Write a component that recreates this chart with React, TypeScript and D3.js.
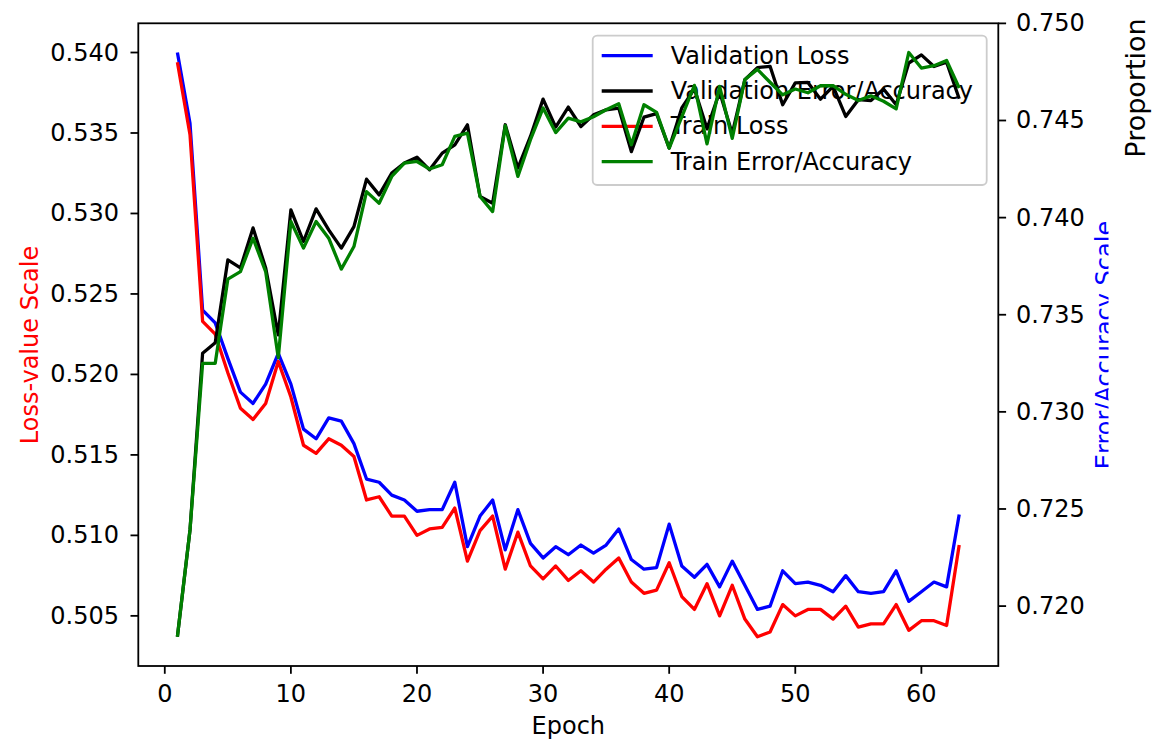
import React from "react";
import * as d3 from "d3";

const epochs: number[] = d3.range(1, 64);

const valLoss: number[] = [
  0.5400, 0.5356, 0.5240, 0.5232, 0.5210, 0.5189, 0.5182, 0.5194, 0.5213, 0.5194,
  0.5166, 0.5160, 0.5173, 0.5171, 0.5157, 0.5135, 0.5133, 0.5125, 0.5122, 0.5115,
  0.5116, 0.5116, 0.5133, 0.5093, 0.5112, 0.5122, 0.5091, 0.5116, 0.5095, 0.5086,
  0.5093, 0.5088, 0.5094, 0.5089, 0.5094, 0.5104, 0.5085, 0.5079, 0.5080, 0.5107,
  0.5081, 0.5074, 0.5082, 0.5068, 0.5084, 0.5069, 0.5054, 0.5056, 0.5078, 0.5070,
  0.5071, 0.5069, 0.5065, 0.5075, 0.5065, 0.5064, 0.5065, 0.5078, 0.5059, 0.5065,
  0.5071, 0.5068, 0.5113,
];

const trainLoss: number[] = [
  0.5394, 0.5349, 0.5233, 0.5225, 0.5201, 0.5179, 0.5172, 0.5182, 0.5208, 0.5186,
  0.5156, 0.5151, 0.5160, 0.5156, 0.5149, 0.5122, 0.5124, 0.5112, 0.5112, 0.5100,
  0.5104, 0.5105, 0.5117, 0.5084, 0.5103, 0.5112, 0.5079, 0.5102, 0.5081, 0.5073,
  0.5081, 0.5072, 0.5078, 0.5071, 0.5079, 0.5086, 0.5071, 0.5064, 0.5066, 0.5083,
  0.5062, 0.5054, 0.5070, 0.5050, 0.5069, 0.5048, 0.5037, 0.5040, 0.5057, 0.5050,
  0.5054, 0.5054, 0.5048, 0.5056, 0.5043, 0.5045, 0.5045, 0.5057, 0.5041, 0.5047,
  0.5047, 0.5044, 0.5094,
];

const valAcc: number[] = [
  0.71842, 0.72392, 0.73302, 0.73356, 0.73782, 0.73741, 0.73947, 0.73741, 0.73396, 0.74040,
  0.73877, 0.74045, 0.73937, 0.73843, 0.73954, 0.74198, 0.74117, 0.74229, 0.74281, 0.74311,
  0.74246, 0.74332, 0.74375, 0.74478, 0.74109, 0.74074, 0.74478, 0.74255, 0.74418, 0.74610,
  0.74466, 0.74569, 0.74469, 0.74529, 0.74555, 0.74564, 0.74340, 0.74517, 0.74535, 0.74358,
  0.74565, 0.74663, 0.74457, 0.74648, 0.74432, 0.74710, 0.74772, 0.74779, 0.74581, 0.74694,
  0.74696, 0.74610, 0.74676, 0.74521, 0.74607, 0.74603, 0.74662, 0.74581, 0.74796, 0.74838,
  0.74778, 0.74800, 0.74612,
];

const trainAcc: number[] = [
  0.71842, 0.72392, 0.73250, 0.73250, 0.73683, 0.73722, 0.73894, 0.73722, 0.73278, 0.73980,
  0.73843, 0.73980, 0.73894, 0.73735, 0.73851, 0.74134, 0.74074, 0.74212, 0.74281, 0.74289,
  0.74250, 0.74272, 0.74418, 0.74435, 0.74109, 0.74031, 0.74473, 0.74212, 0.74401, 0.74564,
  0.74438, 0.74512, 0.74493, 0.74519, 0.74555, 0.74586, 0.74375, 0.74581, 0.74542, 0.74358,
  0.74519, 0.74681, 0.74380, 0.74676, 0.74408, 0.74711, 0.74763, 0.74697, 0.74632, 0.74662,
  0.74643, 0.74679, 0.74679, 0.74635, 0.74603, 0.74627, 0.74599, 0.74560, 0.74850, 0.74770,
  0.74782, 0.74809, 0.74667,
];

const xTicks: number[] = [0, 10, 20, 30, 40, 50, 60];
const leftTicks: number[] = [0.505, 0.51, 0.515, 0.52, 0.525, 0.53, 0.535, 0.54];
const rightTicks: number[] = [0.72, 0.725, 0.73, 0.735, 0.74, 0.745, 0.75];

const legendLabels: string[] = [
  "Validation Loss",
  "Validation Error/Accuracy",
  "Train Loss",
  "Train Error/Accuracy",
];
const legendColors: string[] = ["#0000ff", "#000000", "#ff0000", "#008000"];

const W = 1152;
const H = 749;
const L = 138.3;
const R = 998.3;
const T = 23.3;
const B = 666;
const FONT = "'DejaVu Sans', sans-serif";
const FS = 24;

function padDomain(vals: number[]): [number, number] {
  const mn = d3.min(vals) as number;
  const mx = d3.max(vals) as number;
  const p = (mx - mn) * 0.05;
  return [mn - p, mx + p];
}

export default function App() {
  const x = d3.scaleLinear().domain(padDomain(epochs)).range([L, R]);
  const yL = d3
    .scaleLinear()
    .domain(padDomain([...valLoss, ...trainLoss]))
    .range([B, T]);
  const yR = d3
    .scaleLinear()
    .domain(padDomain([...valAcc, ...trainAcc]))
    .range([B, T]);

  const lineL = (vals: number[]) =>
    d3
      .line<number>()
      .x((_, i) => x(epochs[i]))
      .y((v) => yL(v))(vals) as string;
  const lineR = (vals: number[]) =>
    d3
      .line<number>()
      .x((_, i) => x(epochs[i]))
      .y((v) => yR(v))(vals) as string;

  const fmt = d3.format(".3f");
  const lw = 3.3;
  const tickLen = 7.8;

  const legX = 592.7;
  const legY = 35.7;
  const legW = 394;
  const legH = 149.3;
  const rowY = (i: number) => 55.7 + i * 35.3;

  return (
    <svg
      width={W}
      height={H}
      style={{ position: "absolute", left: 0, top: 0, background: "#fff" }}
      fontFamily={FONT}
    >
      <defs>
        <clipPath id="plotclip">
          <rect x={L} y={T} width={R - L} height={B - T} />
        </clipPath>
        <clipPath id="rlabclip">
          <rect x={1000} y={0} width={108.5} height={H} />
        </clipPath>
      </defs>
      <rect x={0} y={0} width={W} height={H} fill="#fff" />

      {/* left axis lines */}
      <g clipPath="url(#plotclip)" fill="none" strokeWidth={lw} strokeLinejoin="round">
        <path d={lineL(valLoss)} stroke="#0000ff" />
        <path d={lineL(trainLoss)} stroke="#ff0000" />
      </g>

      {/* legend */}
      <g>
        <rect
          x={legX}
          y={legY}
          width={legW}
          height={legH}
          rx={4.4}
          fill="#ffffff"
          fillOpacity={0.8}
          stroke="#cccccc"
          strokeWidth={1.8}
        />
        {legendLabels.map((lab, i) => (
          <g key={lab}>
            <line
              x1={601.7}
              x2={652.7}
              y1={rowY(i)}
              y2={rowY(i)}
              stroke={legendColors[i]}
              strokeWidth={lw}
            />
            <text
              x={670.7}
              y={rowY(i)}
              dominantBaseline="central"
              fontSize={FS}
              fill="#000"
            >
              {lab}
            </text>
          </g>
        ))}
      </g>

      {/* right axis lines */}
      <g clipPath="url(#plotclip)" fill="none" strokeWidth={lw} strokeLinejoin="round">
        <path d={lineR(valAcc)} stroke="#000000" />
        <path d={lineR(trainAcc)} stroke="#008000" />
      </g>

      {/* frame */}
      <rect x={L} y={T} width={R - L} height={B - T} fill="none" stroke="#000" strokeWidth={1.8} />

      {/* x ticks */}
      {xTicks.map((t) => (
        <g key={"x" + t}>
          <line x1={x(t)} x2={x(t)} y1={B} y2={B + tickLen} stroke="#000" strokeWidth={1.8} />
          <text x={x(t)} y={702} textAnchor="middle" fontSize={FS} fill="#000">
            {t}
          </text>
        </g>
      ))}
      <text x={(L + R) / 2} y={734} textAnchor="middle" fontSize={FS} fill="#000">
        Epoch
      </text>

      {/* left ticks */}
      {leftTicks.map((t) => (
        <g key={"l" + t}>
          <line x1={L - tickLen} x2={L} y1={yL(t)} y2={yL(t)} stroke="#000" strokeWidth={1.8} />
          <text
            x={119}
            y={yL(t)}
            textAnchor="end"
            dominantBaseline="central"
            fontSize={FS}
            fill="#000"
          >
            {fmt(t)}
          </text>
        </g>
      ))}
      <text
        transform={`translate(38,345) rotate(-90)`}
        textAnchor="middle"
        fontSize={FS}
        fill="#ff0000"
      >
        Loss-value Scale
      </text>

      {/* right ticks */}
      {rightTicks.map((t) => (
        <g key={"r" + t}>
          <line x1={R} x2={R + tickLen} y1={yR(t)} y2={yR(t)} stroke="#000" strokeWidth={1.8} />
          <text
            x={1016}
            y={yR(t)}
            textAnchor="start"
            dominantBaseline="central"
            fontSize={FS}
            fill="#000"
          >
            {fmt(t)}
          </text>
        </g>
      ))}
      <g clipPath="url(#rlabclip)">
        <text
          transform={`translate(1112.5,345) rotate(-90)`}
          textAnchor="middle"
          fontSize={FS}
          fill="#0000ff"
        >
          Error/Accuracy Scale
        </text>
      </g>
      <text
        transform={`translate(1144.5,88) rotate(-90)`}
        textAnchor="middle"
        fontSize={27}
        fill="#000"
      >
        Proportion
      </text>
    </svg>
  );
}
